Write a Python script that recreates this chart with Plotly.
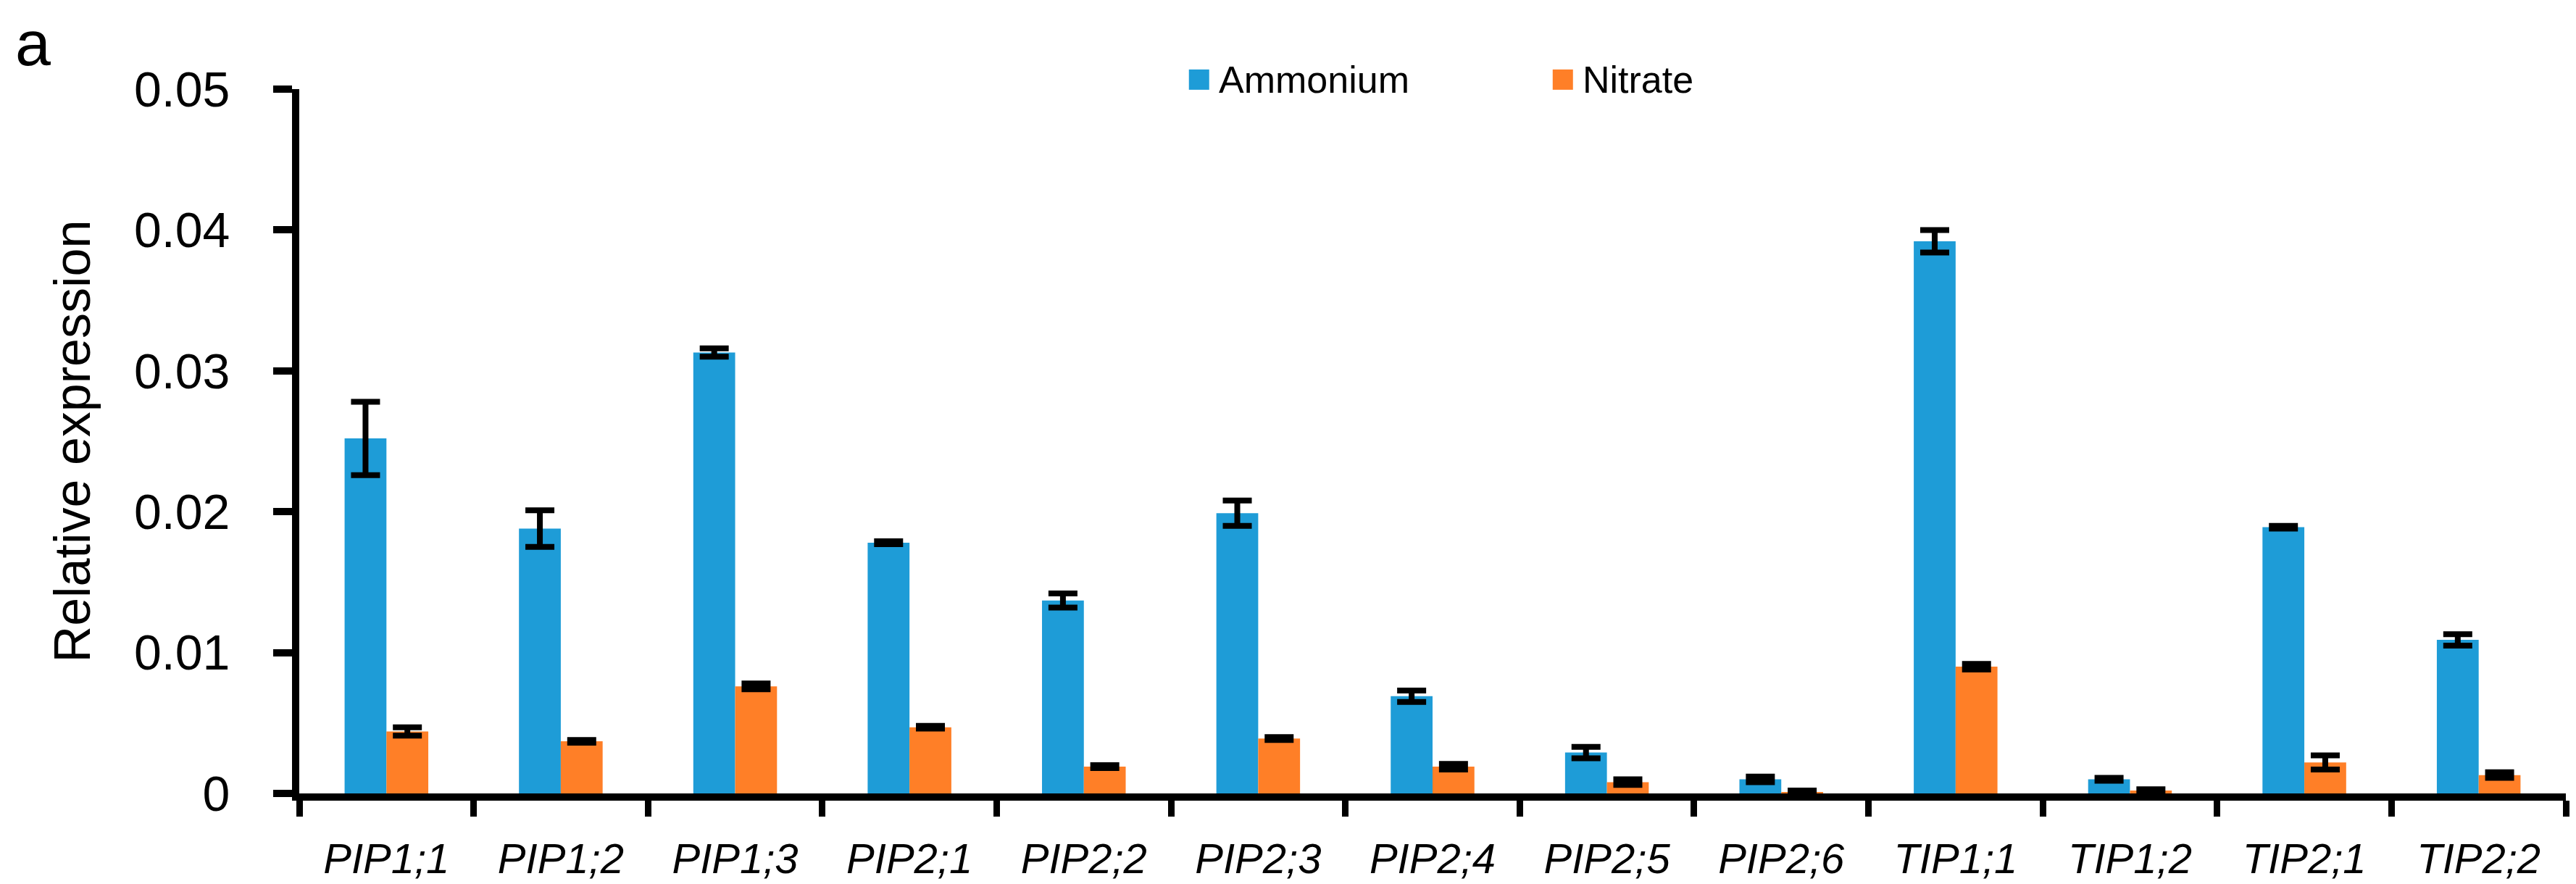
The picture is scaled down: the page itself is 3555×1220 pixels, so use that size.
import plotly.graph_objects as go

# genes on the x axis
genes = ["PIP1;1", "PIP1;2", "PIP1;3", "PIP2;1", "PIP2;2", "PIP2;3", "PIP2;4",
         "PIP2;5", "PIP2;6", "TIP1;1", "TIP1;2", "TIP2;1", "TIP2;2"]

# relative expression
ammonium = [0.0252, 0.0188, 0.0313, 0.0178, 0.0137, 0.0199, 0.0069,
            0.0029, 0.0010, 0.0392, 0.0010, 0.0189, 0.0109]
ammonium_err = [0.0026, 0.0013, 0.0003, 0.0001, 0.0005, 0.0009, 0.0004,
                0.0004, 0.0002, 0.0008, 0.0001, 0.0001, 0.0004]
nitrate = [0.0044, 0.0037, 0.0076, 0.0047, 0.0019, 0.0039, 0.0019,
           0.0008, 0.0001, 0.0090, 0.0002, 0.0022, 0.0013]
nitrate_err = [0.0003, 0.0001, 0.0002, 0.0001, 0.0001, 0.0001, 0.0002,
               0.0002, 0.0001, 0.0002, 0.0001, 0.0005, 0.0002]

y_ticks = [0, 0.01, 0.02, 0.03, 0.04, 0.05]
y_ticktext = ["0", "0.01", "0.02", "0.03", "0.04", "0.05"]

series_names = ["Ammonium", "Nitrate"]
BLUE = "#1E9CD7"
ORANGE = "#FF7F27"
FONT = "Liberation Sans, Arial, sans-serif"

fig = go.Figure()

for name, vals, errs, col in [(series_names[0], ammonium, ammonium_err, BLUE),
                              (series_names[1], nitrate, nitrate_err, ORANGE)]:
    fig.add_trace(go.Bar(
        x=genes, y=vals, name=name,
        marker=dict(color=col, line=dict(width=0)),
        error_y=dict(type="data", array=errs, visible=True,
                     color="black", thickness=8, width=20),
        showlegend=False,
    ))

# hand-made legend so the swatches can be as big as in the original
legend_items = [(series_names[0], BLUE, 0.3925, 0.4050),
                (series_names[1], ORANGE, 0.5530, 0.5655)]
for name, col, xs, xt in legend_items:
    fig.add_shape(type="rect", xref="paper", yref="paper",
                  xsizemode="pixel", ysizemode="pixel",
                  xanchor=xs, yanchor=1.0135,
                  x0=0, x1=28, y0=-14, y1=14,
                  fillcolor=col, line=dict(width=0))
    fig.add_annotation(text=name, xref="paper", yref="paper",
                       x=xt, y=1.0135, xanchor="left", yanchor="middle",
                       showarrow=False, font=dict(family=FONT, size=52, color="black"))

# panel letter, box kept inside the page
fig.add_annotation(text="a", xref="paper", yref="paper", x=-0.126, y=1.1183,
                   xanchor="left", yanchor="top", showarrow=False,
                   font=dict(family=FONT, size=88, color="black"))

fig.update_layout(
    width=3555, height=1220, autosize=False,
    margin=dict(l=405, r=22, t=115, b=133),
    paper_bgcolor="white", plot_bgcolor="white",
    barmode="group", bargap=0.52, bargroupgap=0,
    font=dict(family=FONT, color="black"),
)

fig.update_xaxes(
    type="category", showline=True, linecolor="black", linewidth=10,
    ticks="outside", tickson="boundaries", ticklen=22, tickwidth=9, tickcolor="black",
    tickfont=dict(family=FONT, size=58, style="italic", color="black"),
    ticklabelstandoff=30, showgrid=False, zeroline=False,
)
fig.update_yaxes(
    range=[0, 0.05], tickvals=y_ticks, ticktext=y_ticktext,
    showline=True, linecolor="black", linewidth=10,
    ticks="outside", ticklen=26, tickwidth=10, tickcolor="black",
    tickfont=dict(family=FONT, size=68, color="black"),
    ticklabelstandoff=46, showgrid=False, zeroline=False,
    title=dict(text="Relative expression", standoff=42,
               font=dict(family=FONT, size=70, color="black")),
)

fig.write_html("out.html")
